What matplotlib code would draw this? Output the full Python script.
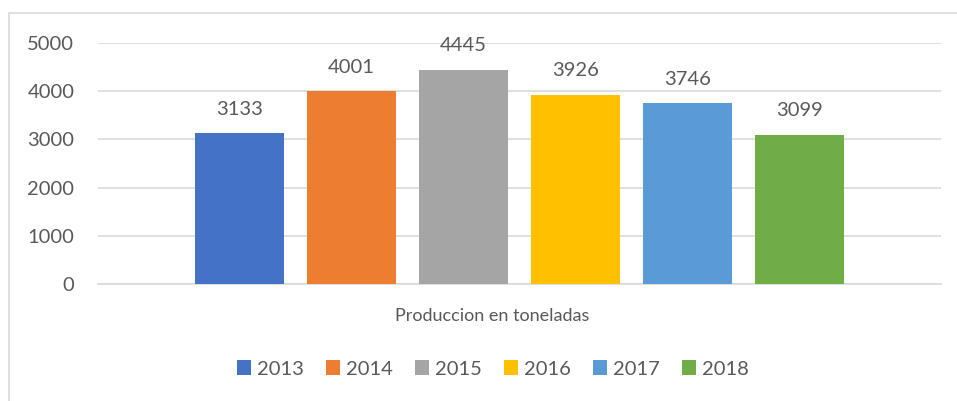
import matplotlib
matplotlib.use('Agg')
import matplotlib.pyplot as plt
from matplotlib.patches import Rectangle, Patch

# data
years = ['2013', '2014', '2015', '2016', '2017', '2018']
values = [3133, 4001, 4445, 3926, 3746, 3099]
colors = ['#4472C4', '#ED7D31', '#A5A5A5', '#FFC000', '#5B9BD5', '#70AD47']
category = 'Produccion en toneladas'
yticks = [0, 1000, 2000, 3000, 4000, 5000]

plt.rcParams['font.family'] = ['Lato', 'DejaVu Sans']
txt = '#595959'
grid = '#D9D9D9'
fs = 14.5

W, H = 957, 401
fig = plt.figure(figsize=(W / 100, H / 100), dpi=100)

# outer chart frame (only left and top are visible in the crop)
fig.patches.append(Rectangle((9 / W, -0.1), 1.1, 1.1 - 13 / H, transform=fig.transFigure,
                             fill=False, edgecolor=grid, linewidth=1.2))

# plot area in pixels: x 98..941, y 43..284
ax = fig.add_axes([98 / W, 1 - 284 / H, (941 - 98) / W, (284 - 43) / H])

step = 112 / 843
width = 89 / 843
for i, (yr, v, c) in enumerate(zip(years, values, colors)):
    x = (i - 2.5) * step
    ax.bar(x, v, width=width, color=c, zorder=3)
    ax.annotate(str(v), (x, v), xytext=(0, 11), textcoords='offset points',
                ha='center', va='bottom', fontsize=fs, color=txt)

ax.set_xlim(-0.5, 0.5)
ax.set_ylim(0, 5000)
ax.set_yticks(yticks)
ax.set_yticklabels([str(t) for t in yticks], fontsize=fs, color=txt)
ax.tick_params(axis='y', length=0, pad=17)
ax.set_xticks([])
ax.grid(axis='y', color=grid, linewidth=1.2, zorder=0)
for s in ['top', 'right', 'left']:
    ax.spines[s].set_visible(False)
ax.spines['bottom'].set_color(grid)
ax.spines['bottom'].set_linewidth(1.2)

fig.text(492 / W, 1 - 316 / H, category, ha='center', va='center', fontsize=13, color=txt)

handles = [Patch(facecolor=c, edgecolor='none') for c in colors]
fig.legend(handles, years, loc='center', bbox_to_anchor=(493 / W, 1 - 369 / H), ncol=6,
           frameon=False, fontsize=fs, labelcolor=txt, handlelength=0.7, handleheight=0.7,
           handletextpad=0.3, columnspacing=1.1)

fig.savefig('out.png', dpi=100)
